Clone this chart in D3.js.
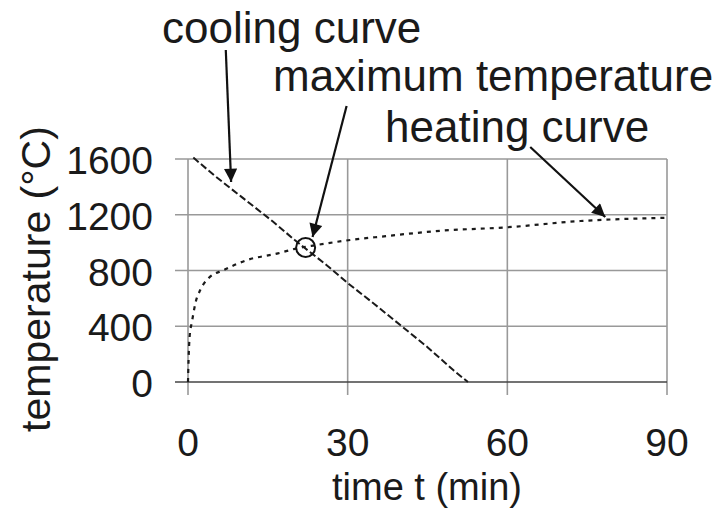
<!DOCTYPE html>
<html>
<head>
<meta charset="utf-8">
<script src="https://cdn.jsdelivr.net/npm/d3@7"></script>
<style>
  html, body { margin: 0; padding: 0; background: #fff; }
  svg { display: block; }
  text { font-family: "Liberation Sans", Arial, sans-serif; fill: #1a1a1a; }
</style>
</head>
<body>
<script>
// ---- data ----
const xTicks = [0, 30, 60, 90];
const yTicks = [0, 400, 800, 1200, 1600];
const coolingTime = [1, 5, 10, 16, 20, 22, 26, 30, 35, 40, 45, 50, 52.6];
const coolingTemp = [1610, 1480, 1330, 1150, 1020, 960, 840, 710, 560, 405, 250, 80, 0];
const heatingTime = [0, 0.1, 0.3, 0.75, 1.4, 2.3, 3.9, 6.7, 11.1, 16.9, 20.5, 24.2, 30.5, 36.8, 47.4, 59.9, 73.7, 90];
const heatingTemp = [0, 150, 323, 433, 567, 660, 746, 803, 875, 923, 959, 983, 1019, 1045, 1085, 1110, 1155, 1178];
const maxPoint = [22.1, 965];
const annotationLabels = ["cooling curve", "maximum temperature", "heating curve"];
// arrow start / tip in data units (time, temperature)
const arrowStart = [[7.1, 2382], [29.8, 1980], [64.3, 1686]];
const arrowTip = [[8.1, 1435], [23.4, 1040], [78.4, 1184]];
const xTitle = "time t (min)";
const yTitle = "temperature (°C)";

// ---- layout ----
const W = 727, H = 509;
const x = d3.scaleLinear().domain([0, 90]).range([188, 667]);
const y = d3.scaleLinear().domain([0, 1600]).range([382, 159]);

const svg = d3.select("body").append("svg").attr("width", W).attr("height", H);

// gridlines
svg.append("g").selectAll("line").data(xTicks).join("line")
  .attr("x1", d => x(d)).attr("x2", d => x(d))
  .attr("y1", y(1600)).attr("y2", y(0) + 13)
  .attr("stroke", "#999").attr("stroke-width", 1.6);
svg.append("g").selectAll("line").data(yTicks).join("line")
  .attr("x1", x(0) - 13).attr("x2", x(90))
  .attr("y1", d => y(d)).attr("y2", d => y(d))
  .attr("stroke", d => d === 0 ? "#444" : "#999").attr("stroke-width", 1.6);

// tick labels
svg.append("g").selectAll("text").data(yTicks).join("text")
  .attr("x", 153).attr("y", d => y(d) + 15)
  .attr("text-anchor", "end").attr("font-size", 39)
  .text(d => d);
svg.append("g").selectAll("text").data(xTicks).join("text")
  .attr("x", d => x(d)).attr("y", 456)
  .attr("text-anchor", "middle").attr("font-size", 39)
  .text(d => d);

// axis titles
svg.append("text").attr("x", 427).attr("y", 500)
  .attr("text-anchor", "middle").attr("font-size", 38).text(xTitle);
svg.append("text").attr("transform", "translate(50,279) rotate(-90)")
  .attr("text-anchor", "middle").attr("font-size", 41).text(yTitle);

// curves
const toPts = (ts, vs) => ts.map((t, i) => [t, vs[i]]);
const line = d3.line().x(d => x(d[0])).y(d => y(d[1]));
svg.append("path").datum(toPts(coolingTime, coolingTemp))
  .attr("d", line).attr("fill", "none").attr("stroke", "#1a1a1a")
  .attr("stroke-width", 2).attr("stroke-dasharray", "7,3");
svg.append("path").datum(toPts(heatingTime, heatingTemp))
  .attr("d", d3.line().curve(d3.curveMonotoneX).x(d => x(d[0])).y(d => y(d[1])))
  .attr("fill", "none").attr("stroke", "#1a1a1a")
  .attr("stroke-width", 2.2).attr("stroke-dasharray", "4,5");

// max temperature circle
svg.append("circle").attr("cx", x(maxPoint[0])).attr("cy", y(maxPoint[1]))
  .attr("r", 9.5).attr("fill", "none").attr("stroke", "#111").attr("stroke-width", 2);

// annotation arrows
const defs = svg.append("defs");
defs.append("marker").attr("id", "ah").attr("viewBox", "0 0 10 10")
  .attr("refX", 10).attr("refY", 5).attr("markerWidth", 7.5).attr("markerHeight", 6)
  .attr("markerUnits", "strokeWidth").attr("orient", "auto")
  .append("path").attr("d", "M0,0 L10,5 L0,10 Z").attr("fill", "#111");
svg.append("g").selectAll("line").data(arrowStart).join("line")
  .attr("x1", d => x(d[0])).attr("y1", d => y(d[1]))
  .attr("x2", (d, i) => x(arrowTip[i][0])).attr("y2", (d, i) => y(arrowTip[i][1]))
  .attr("stroke", "#111").attr("stroke-width", 2.2).attr("marker-end", "url(#ah)");

// annotation labels
const labelPos = [[162, 43], [273, 91], [385, 142]];
svg.append("g").selectAll("text").data(annotationLabels).join("text")
  .attr("x", (d, i) => labelPos[i][0]).attr("y", (d, i) => labelPos[i][1])
  .attr("font-size", 44).text(d => d);
</script>
</body>
</html>
